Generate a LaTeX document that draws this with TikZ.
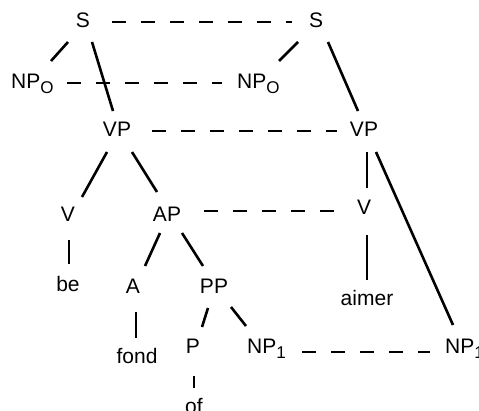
\documentclass[tikz,border=0pt]{standalone}
\usepackage{fontspec}
\setmainfont{Liberation Sans}
\usetikzlibrary{calc}
\newcommand{\lowsub}[1]{\raisebox{-5pt}{\fontsize{17}{17}\selectfont #1}}

\begin{document}
\begin{tikzpicture}[x=1pt,y=-1pt]
\tikzstyle{cat}=[inner sep=0pt,anchor=base,font=\fontsize{21}{25}\selectfont]
\tikzstyle{branch}=[line width=2.6pt]
\tikzstyle{link}=[line width=1.8pt,dash pattern=on 14pt off 15pt]
\useasboundingbox (0,0) rectangle (479,410);
  % English tree
  \node(s1)at(83,27)[cat]{S};
  \node(npo1)at(11,88)[cat,anchor=base west]{NP\lowsub{O}};
  \node(vp1)at(117,136)[cat]{VP};
  \node(v1)at(68,221)[cat]{V};
  \node(ap)at(167,221)[cat]{AP};
  \node(be)at(68,291)[cat]{be};
  \node(a)at(133,293)[cat]{A};
  \node(pp)at(214,293)[cat]{PP};
  \node(fond)at(137,363)[cat]{fond};
  \node(p)at(193,353)[cat]{P};
  \node(np1a)at(247,353)[cat,anchor=base west]{NP\lowsub{1}};
  \node(of)at(194,413)[cat]{of};
  % French tree
  \node(s2)at(316,27)[cat]{S};
  \node(npo2)at(237,88)[cat,anchor=base west]{NP\lowsub{O}};
  \node(vp2)at(364,136)[cat]{VP};
  \node(v2)at(364,214)[cat]{V};
  \node(aimer)at(367,305)[cat]{aimer};
  \node(np1b)at(445,353)[cat,anchor=base west]{NP\lowsub{1}};
  % branches
  \draw[branch]($(s1.base)+(-15,15)$)--($(npo1.base west)+(40,-27)$);
  \draw[branch]($(s1.base)+(9,15)$)--($(vp1.base)+(-4,-25)$);
  \draw[branch]($(vp1.base)+(-10,16)$)--($(v1.base)+(14,-24)$);
  \draw[branch]($(vp1.base)+(15,16)$)--($(ap.base)+(-10,-29)$);
  \draw[branch]($(v1.base)+(1,19)$)--($(be.base)+(1,-27)$);
  \draw[branch]($(ap.base)+(-7,12)$)--($(a.base)+(12,-27)$);
  \draw[branch]($(ap.base)+(15,12)$)--($(pp.base)+(-11,-27)$);
  \draw[branch]($(a.base)+(3,19)$)--($(fond.base)+(-1,-25)$);
  \draw[branch]($(pp.base)+(-6,15)$)--($(p.base)+(9,-26)$);
  \draw[branch]($(pp.base)+(17,14)$)--($(np1a.base west)+(-1,-27)$);
  \draw[branch]($(p.base)+(1,23)$)--($(of.base)+(0,-25)$);
  \draw[branch]($(s2.base)+(-18,15)$)--($(npo2.base west)+(42,-27)$);
  \draw[branch]($(s2.base)+(12,15)$)--($(vp2.base)+(-6,-25)$);
  \draw[branch]($(vp2.base)+(3,16)$)--($(v2.base)+(3,-26)$);
  \draw[branch]($(vp2.base)+(12,16)$)--($(np1b.base west)+(8,-28)$);
  \draw[branch]($(v2.base)+(3,21)$)--($(aimer.base)+(0,-25)$);
  % correspondences
  \draw[link]($(s1.base)+(29,-5)$)--($(s2.base)+(-24,-5)$);
  \draw[link]($(npo1.base west)+(56,-5)$)--($(npo2.base west)+(-15,-5)$);
  \draw[link]($(vp1.base)+(35,-5)$)--($(vp2.base)+(-27,-5)$);
  \draw[link]($(ap.base)+(37,-10)$)--($(v2.base)+(-28,-3)$);
  \draw[link]($(np1a.base west)+(55,-1)$)--($(np1b.base west)+(-15,-1)$);
\end{tikzpicture}
\end{document}
